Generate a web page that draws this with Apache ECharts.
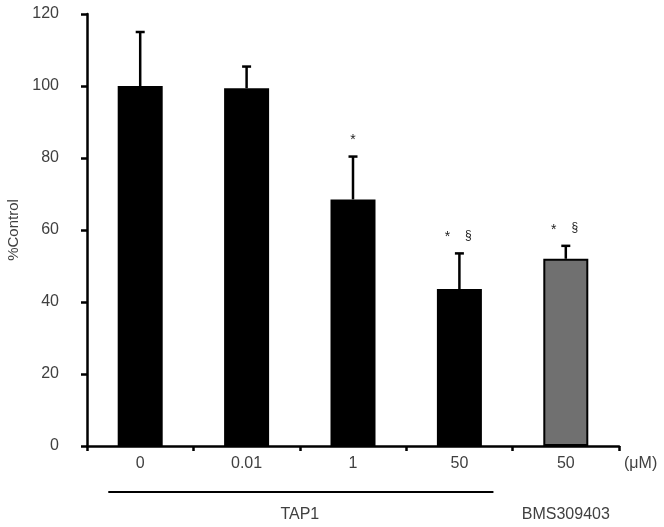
<!DOCTYPE html>
<html>
<head>
<meta charset="utf-8">
<script src="https://cdn.jsdelivr.net/npm/echarts@6/dist/echarts.min.js"></script>
<style>html,body{margin:0;padding:0;background:#fff;}#c{width:664px;height:527px;}</style>
</head>
<body>
<div id="c"></div>
<script>
var categories = ['0', '0.01', '1', '50', '50'];
var means = [100, 99.4, 68.5, 43.6, 52];
var errUpper = [115, 105.4, 80.4, 53.5, 55.6];
var barColors = ['#000000', '#000000', '#000000', '#000000', '#707070'];
var markStar = ['', '', '*', '*', '*'];
var markSect = ['', '', '', '§', '§'];
var groups = [{name: 'TAP1', from: 0, to: 3, line: true}, {name: 'BMS309403', from: 4, to: 4, line: false}];
var yTicks = [0, 20, 40, 60, 80, 100, 120];

var font = 'Liberation Sans, Arial, sans-serif';
var txt = '#404040';
var chart = echarts.init(document.getElementById('c'));

chart.setOption({
  animation: false,
  grid: {left: 87, right: 45, top: 14, bottom: 81, containLabel: false, outerBoundsMode: 'none'},
  xAxis: {
    type: 'category', data: categories,
    axisLine: {lineStyle: {color: '#000', width: 2.5}},
    axisTick: {show: true, length: 5, lineStyle: {color: '#000', width: 2.5}},
    axisLabel: {color: txt, fontFamily: font, fontSize: 16, margin: 10},
    name: '(μM)', nameLocation: 'end', nameGap: 5,
    nameTextStyle: {color: txt, fontFamily: font, fontSize: 16, verticalAlign: 'top', padding: [10, 0, 0, 0]}
  },
  yAxis: {
    type: 'value', min: 0, max: 120, interval: 20,
    axisLine: {show: true, lineStyle: {color: '#000', width: 2.5}},
    axisTick: {show: true, length: 6, lineStyle: {color: '#000', width: 2.5}},
    splitLine: {show: false},
    axisLabel: {color: txt, fontFamily: font, fontSize: 16, margin: 28},
    name: '%Control', nameLocation: 'middle', nameGap: 65, nameRotate: 90,
    nameTextStyle: {color: txt, fontFamily: font, fontSize: 15}
  },
  series: [
    {
      type: 'custom', z: 1,
      data: errUpper.map(function (v, i) { return [i, means[i], v]; }),
      renderItem: function (params, api) {
        var i = api.value(0);
        var lo = api.coord([i, api.value(1)]);
        var hi = api.coord([i, api.value(2)]);
        var s = {stroke: '#000', lineWidth: 2.5};
        return {type: 'group', children: [
          {type: 'line', shape: {x1: lo[0], y1: lo[1], x2: hi[0], y2: hi[1]}, style: s},
          {type: 'line', shape: {x1: hi[0] - 4.5, y1: hi[1], x2: hi[0] + 4.5, y2: hi[1]}, style: s}
        ]};
      }
    },
    {
      type: 'bar', z: 2, barWidth: 45,
      data: means.map(function (v, i) {
        return {value: v, itemStyle: {color: barColors[i], borderColor: '#000', borderWidth: i === 4 ? 2 : 0}};
      })
    },
    {
      type: 'custom', z: 3,
      data: errUpper.map(function (v, i) { return [i, v]; }),
      renderItem: function (params, api) {
        var i = api.value(0);
        var p = api.coord([i, api.value(1)]);
        var ch = [];
        var hasS = markSect[i] !== '';
        if (markStar[i]) ch.push({type: 'text', style: {text: markStar[i], x: p[0] + (hasS ? -12 : 0), y: p[1] - 16, fill: '#222', font: '14px ' + font, align: 'center', verticalAlign: 'middle'}});
        if (hasS) ch.push({type: 'text', style: {text: markSect[i], x: p[0] + 9, y: p[1] - 18, fill: '#222', font: '12px ' + font, align: 'center', verticalAlign: 'middle'}});
        return {type: 'group', children: ch};
      }
    },
    {
      type: 'custom', z: 3, clip: false,
      data: groups.map(function (g) { return [g.from, g.to]; }),
      renderItem: function (params, api) {
        var g = groups[params.dataIndex];
        var a = api.coord([g.from, 0]);
        var b = api.coord([g.to, 0]);
        var bw = api.size([1, 0])[0];
        var ch = [];
        if (g.line) ch.push({type: 'line', shape: {x1: a[0] - bw * 0.3, y1: a[1] + 46, x2: b[0] + bw * 0.32, y2: a[1] + 46}, style: {stroke: '#000', lineWidth: 2}});
        ch.push({type: 'text', style: {text: g.name, x: (a[0] + b[0]) / 2, y: a[1] + 69, fill: txt, font: '16px ' + font, align: 'center', verticalAlign: 'middle'}});
        return {type: 'group', children: ch};
      }
    }
  ]
});
</script>
</body>
</html>
